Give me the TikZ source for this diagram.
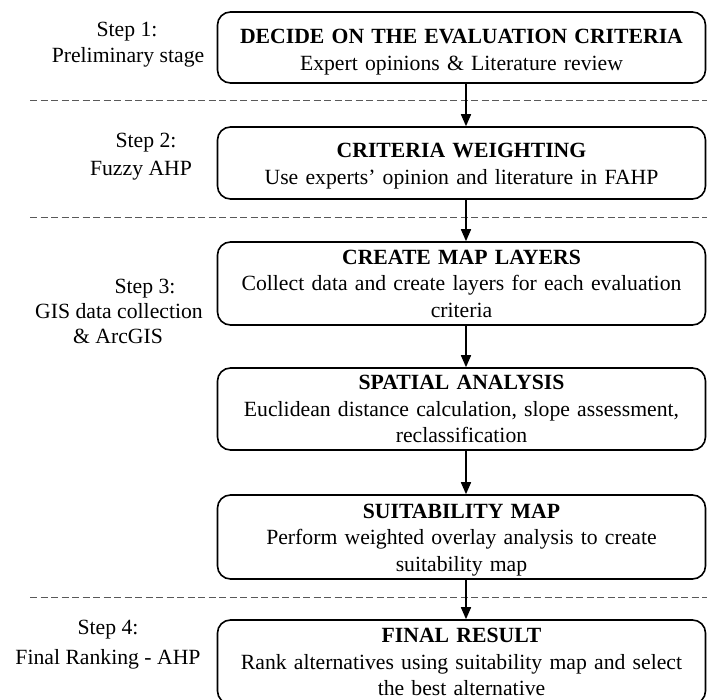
\documentclass[tikz,border=0pt]{standalone}
\usepackage{fontspec}
\setmainfont{Liberation Serif}
\usetikzlibrary{arrows.meta}
\newcommand{\lowerby}[1]{\rule{0pt}{#1}}
\begin{document}
\begin{tikzpicture}[x=1pt,y=-1pt,
  stepbox/.style={draw=black,line width=1.6pt,rounded corners=13pt,align=center,
    text width=480pt,inner sep=0pt,minimum width=488pt,font=\fontsize{21.7}{26.5}\selectfont},
  steplabel/.style={anchor=base,font=\fontsize{21.7}{26.5}\selectfont,inner sep=0pt},
  divider/.style={line width=0.9pt,dash pattern=on 7pt off 3.5pt,draw=black!65},
  flow/.style={line width=1.6pt,-{Triangle[length=12pt,width=10pt]}}]
\useasboundingbox (0,0) rectangle (707,699);
\node[stepbox,minimum height=71pt] (b1) at (461.5,47.5)
  {\lowerby{23.5pt}\textbf{DECIDE ON THE EVALUATION CRITERIA}\\[1pt]Expert opinions \& Literature review};
\node[stepbox,minimum height=72pt] (b2) at (461.5,163)
  {\lowerby{20.5pt}\textbf{CRITERIA WEIGHTING}\\Use experts’ opinion and literature in FAHP};
\node[stepbox,minimum height=83pt] (b3) at (461.5,283.5)
  {\textbf{CREATE MAP LAYERS}\\Collect data and create layers for each evaluation\\criteria};
\node[stepbox,minimum height=82pt] (b4) at (461.5,409)
  {\textbf{SPATIAL ANALYSIS}\\Euclidean distance calculation, slope assessment,\\reclassification};
\node[stepbox,minimum height=84pt] (b5) at (461.5,537)
  {\lowerby{20.5pt}\textbf{SUITABILITY MAP}\\Perform weighted overlay analysis to create\\suitability map};
\node[stepbox,minimum height=84pt] (b6) at (461.5,662)
  {\textbf{FINAL RESULT}\\Rank alternatives using suitability map and select\\the best alternative};

\node[steplabel] (s1a) at (127,36) {Step 1:};
\node[steplabel] (s1b) at (128,62) {Preliminary stage};
\node[steplabel] (s2a) at (146,147) {Step 2:};
\node[steplabel] (s2b) at (141,175) {Fuzzy AHP};
\node[steplabel] (s3a) at (145,293) {Step 3:};
\node[steplabel] (s3b) at (119,318) {GIS data collection};
\node[steplabel] (s3c) at (118,343) {\& ArcGIS};
\node[steplabel] (s4a) at (108,634) {Step 4:};
\node[steplabel] (s4b) at (108,664) {Final Ranking - AHP};

\coordinate (d1a) at (30,100); \coordinate (d1b) at (707,100);
\coordinate (d2a) at (30,217); \coordinate (d2b) at (707,217);
\coordinate (d3a) at (30,597); \coordinate (d3b) at (707,597);
\draw[divider] (d1a) -- (d1b);
\draw[divider] (d2a) -- (d2b);
\draw[divider] (d3a) -- (d3b);

\coordinate (ax) at (466,0);
\draw[flow] (b1.south -| ax) -- (b2.north -| ax);
\draw[flow] (b2.south -| ax) -- (b3.north -| ax);
\draw[flow] (b3.south -| ax) -- (b4.north -| ax);
\draw[flow] (b4.south -| ax) -- (b5.north -| ax);
\draw[flow] (b5.south -| ax) -- (b6.north -| ax);
\end{tikzpicture}
\end{document}
